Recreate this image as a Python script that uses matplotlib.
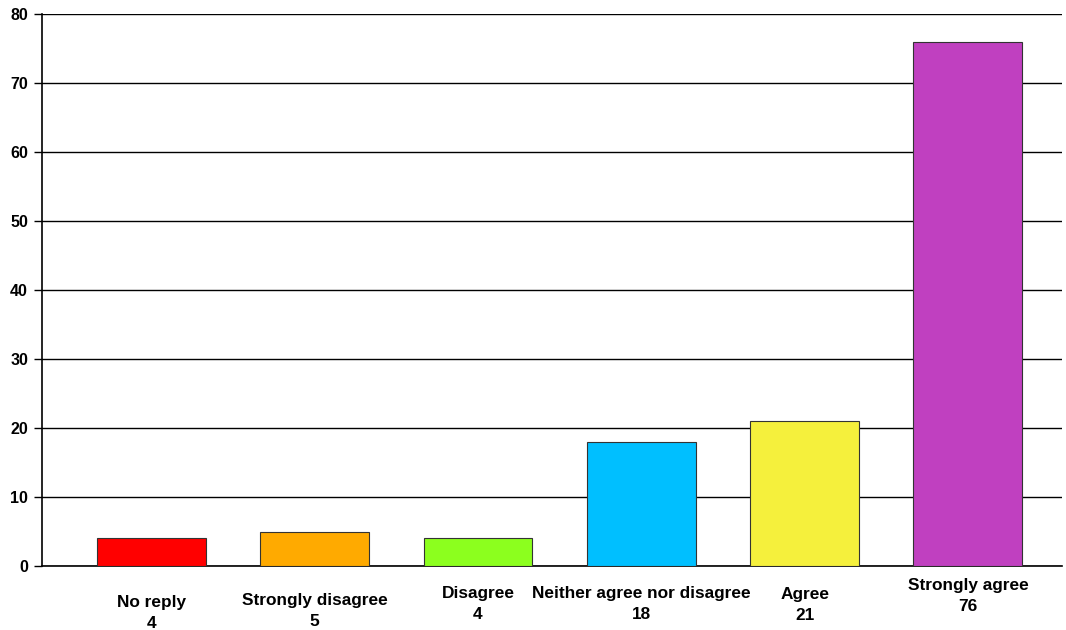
import matplotlib.pyplot as plt

# survey answers
categorias = ["No reply", "Strongly disagree", "Disagree",
              "Neither agree nor disagree", "Agree", "Strongly agree"]
respuestas = [4, 5, 4, 18, 21, 76]
colores = ["#ff0000", "#ffaa00", "#8cff1e", "#00bfff", "#f5f03c", "#c040c0"]

# vertical drop of each category label below the axis (pixels)
caida_etiqueta = [47, 45, 38, 38, 39, 30]

plt.rcParams["font.family"] = ["Liberation Sans", "DejaVu Sans"]
plt.rcParams["font.weight"] = "bold"

fig = plt.figure(figsize=(10.66, 6.3), dpi=100)
ax = fig.add_axes([42 / 1066, 1 - 566 / 630, 1020 / 1066, 552 / 630])

x = list(range(len(categorias)))
ax.bar(x, respuestas, width=0.667, color=colores,
       edgecolor="#333333", linewidth=0.8, zorder=3)

ax.set_xlim(-0.67, 5.576)
ax.set_ylim(0, 80)
ax.set_yticks(range(0, 81, 10))
ax.yaxis.grid(True, color="black", linewidth=1.0, zorder=0)
ax.tick_params(axis="y", length=6, width=1, labelsize=11.5, pad=4)
ax.set_xticks([])

for lado in ["top", "right"]:
    ax.spines[lado].set_visible(False)
ax.spines["left"].set_linewidth(1.2)
ax.spines["bottom"].set_linewidth(1.2)

for xi, cat, val, caida in zip(x, categorias, respuestas, caida_etiqueta):
    ax.annotate(f"{cat}\n{val}", xy=(xi, 0), xycoords=("data", "axes fraction"),
                xytext=(0, -caida * 0.72), textcoords="offset points",
                ha="center", va="center", fontsize=12.4, fontweight="bold",
                linespacing=1.45)

fig.savefig("out.png", dpi=100)
